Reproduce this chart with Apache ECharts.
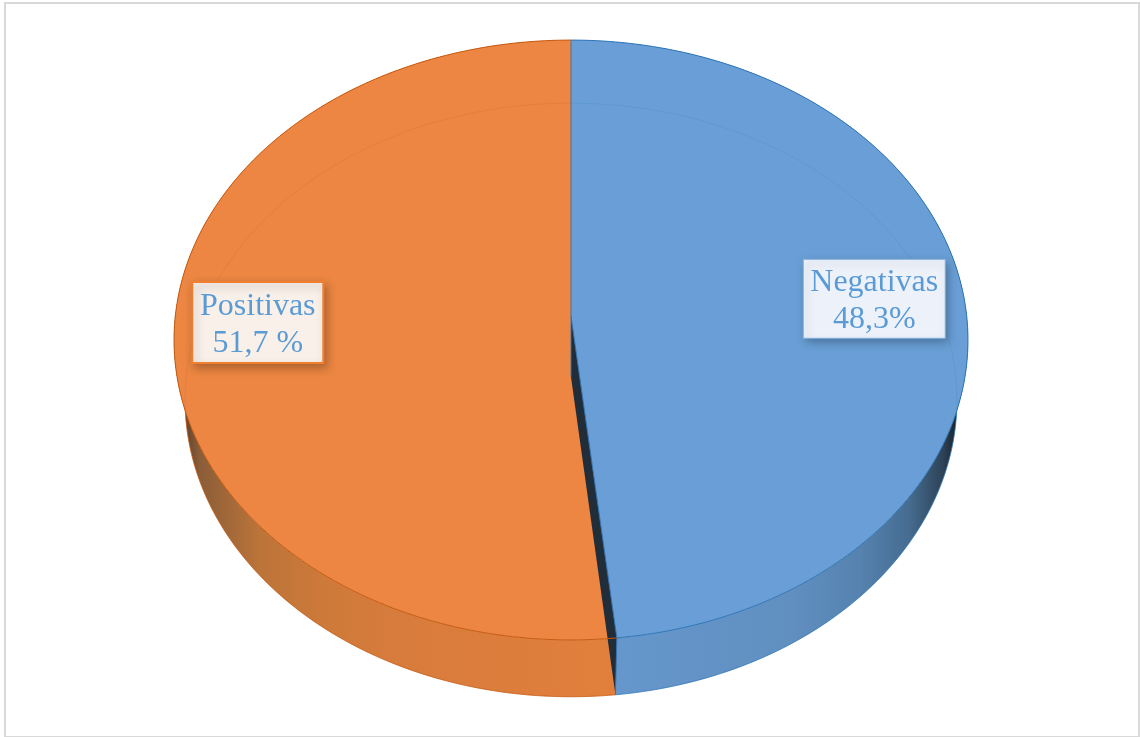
<!DOCTYPE html>
<html>
<head>
<meta charset="utf-8">
<style>
  html, body { margin: 0; padding: 0; background: #fff; }
  #chart { width: 1140px; height: 737px; }
</style>
</head>
<body>
<div id="chart"></div>
<script src="https://cdn.jsdelivr.net/npm/echarts@6/dist/echarts.min.js"></script>
<script>
const categories = ['Negativas', 'Positivas']
const values = [48.3, 51.7]
const valueLabels = ['48,3%', '51,7 %']

const total = values.reduce((a, b) => a + b, 0)

// two perspective ellipses: top face and bottom face of the disc
const topFace = { cx: 571, cy: 316, a: 395.7, b: 298, k: 0.08 }
const botFace = { cx: 571, cy: 377, a: 384.8, b: 295, k: 0.0774 }

const skin = [
  {
    top: '#699fd6', rim: '#2e75b6', box: '#edf2fa', boxLine: '#7fafdd', boxLineW: 1,
    box2: { w: 142, h: 79 }, labelR: 0.77, dy: -5, textDy: 2,
    wall: [[0, '#1a222c'], [0.04, '#2d4256'], [0.14, '#466c90'], [0.28, '#5582ae'], [0.48, '#608fc0'], [1, '#6697cc']],
    wallFrom: 957, wallTo: 615
  },
  {
    top: '#ec8642', rim: '#c55a11', box: '#faf0ea', boxLine: '#f0802f', boxLineW: 2,
    box2: { w: 131, h: 81 }, labelR: 0.79, dy: -6, textDy: 2,
    wall: [[0, '#5a3f28'], [0.04, '#8a5d38'], [0.18, '#bc7439'], [0.34, '#cf7a3a'], [0.53, '#d87c3c'], [1, '#e27f3d']],
    wallFrom: 182, wallTo: 615
  }
]

function startAngle (i) {
  let sum = 0
  for (let j = 0; j < i; j++) sum += values[j]
  return sum / total * 360
}

function project (face, deg, r) {
  const t = deg * Math.PI / 180
  const x = Math.sin(t) * r
  const y = -Math.cos(t) * r
  const w = 1 - face.k * y
  return [face.cx + face.a * x / w, face.cy + face.b * y / w]
}

function arc (face, from, to) {
  const pts = []
  const n = Math.ceil(Math.abs(to - from))
  for (let s = 0; s <= n; s++) pts.push(project(face, from + (to - from) * s / n, 1))
  return pts
}

function wallGradient (s) {
  return new echarts.graphic.LinearGradient(s.wallFrom, 0, s.wallTo, 0,
    s.wall.map(c => ({ offset: c[0], color: c[1] })), true)
}

const layers = {
  walls (i, from, to) {
    const s = skin[i]
    const low = arc(botFace, from, to)
    const vis = arc(botFace, Math.max(from, 90), Math.min(to, 270))
    return [
      { type: 'polygon', shape: { points: arc(topFace, from, to).concat(low.slice().reverse()) }, style: { fill: wallGradient(s) } },
      { type: 'polyline', shape: { points: vis }, style: { fill: 'none', stroke: s.rim, lineWidth: 1, opacity: 0.7 } }
    ]
  },
  tops (i, from, to) {
    const tip = project(topFace, 0, 0)
    return [{ type: 'polygon', shape: { points: [tip].concat(arc(topFace, from, to)) }, style: { fill: skin[i].top } }]
  },
  cut (i, from) {
    // the dark inner wall shows only at the front edge of the first slice
    if (i !== 1) return []
    const a = project(topFace, 0, 0)
    const b = project(botFace, 0, 0)
    const c = project(botFace, from, 1)
    const d = project(topFace, from, 1)
    return [
      { type: 'polygon', shape: { points: [a, b, c, d] }, style: { fill: '#222d3a' } },
      { type: 'polyline', shape: { points: [project(topFace, 0, 1), a, b] }, style: { fill: 'none', stroke: '#2e75b6', lineWidth: 1, opacity: 0.9 } },
      { type: 'polyline', shape: { points: [a, d, c] }, style: { fill: 'none', stroke: '#2e75b6', lineWidth: 1 } }
    ]
  },
  rims (i, from, to) {
    const s = skin[i]
    return [
      { type: 'polyline', shape: { points: arc(botFace, from, to) }, style: { fill: 'none', stroke: s.rim, lineWidth: 1, opacity: 0.16 } },
      { type: 'polyline', shape: { points: arc(topFace, from, to) }, style: { fill: 'none', stroke: s.rim, lineWidth: 1 } }
    ]
  },
  labels (i, from, to) {
    const s = skin[i]
    const c = project(topFace, (from + to) / 2, s.labelR)
    const cx = c[0]
    const cy = c[1] + s.dy
    const w = s.box2.w
    const h = s.box2.h
    return [
      {
        type: 'rect',
        shape: { x: cx - w / 2, y: cy - h / 2, width: w, height: h },
        style: { fill: s.box, stroke: s.boxLine, lineWidth: s.boxLineW, shadowBlur: 9, shadowOffsetX: 3, shadowOffsetY: 4, shadowColor: 'rgba(0,0,0,0.28)' }
      },
      {
        type: 'text',
        style: {
          x: cx, y: cy + s.textDy, text: categories[i] + '\n' + valueLabels[i],
          textAlign: 'center', textVerticalAlign: 'middle',
          fontFamily: 'Liberation Serif', fontSize: 32, lineHeight: 37, fill: '#5b9bd5'
        }
      }
    ]
  }
}

function layerSeries (name, z) {
  return {
    type: 'custom',
    name: name,
    coordinateSystem: 'none',
    silent: true,
    z: z,
    data: values.map((v, i) => [v, categories[i]]),
    renderItem (params, api) {
      const i = params.dataIndex
      const from = startAngle(i)
      const to = from + api.value(0) / total * 360
      return { type: 'group', children: layers[name](i, from, to) }
    }
  }
}

const myChart = echarts.init(document.getElementById('chart'))
myChart.setOption({
  animation: false,
  backgroundColor: '#fff',
  graphic: [{
    type: 'rect',
    z: 100,
    silent: true,
    shape: { x: 5, y: 3, width: 1134, height: 734 },
    style: { fill: 'none', stroke: '#d9d9d9', lineWidth: 2 }
  }],
  series: [
    layerSeries('walls', 1),
    layerSeries('tops', 2),
    layerSeries('cut', 3),
    layerSeries('rims', 4),
    layerSeries('labels', 5)
  ]
})
</script>
</body>
</html>
